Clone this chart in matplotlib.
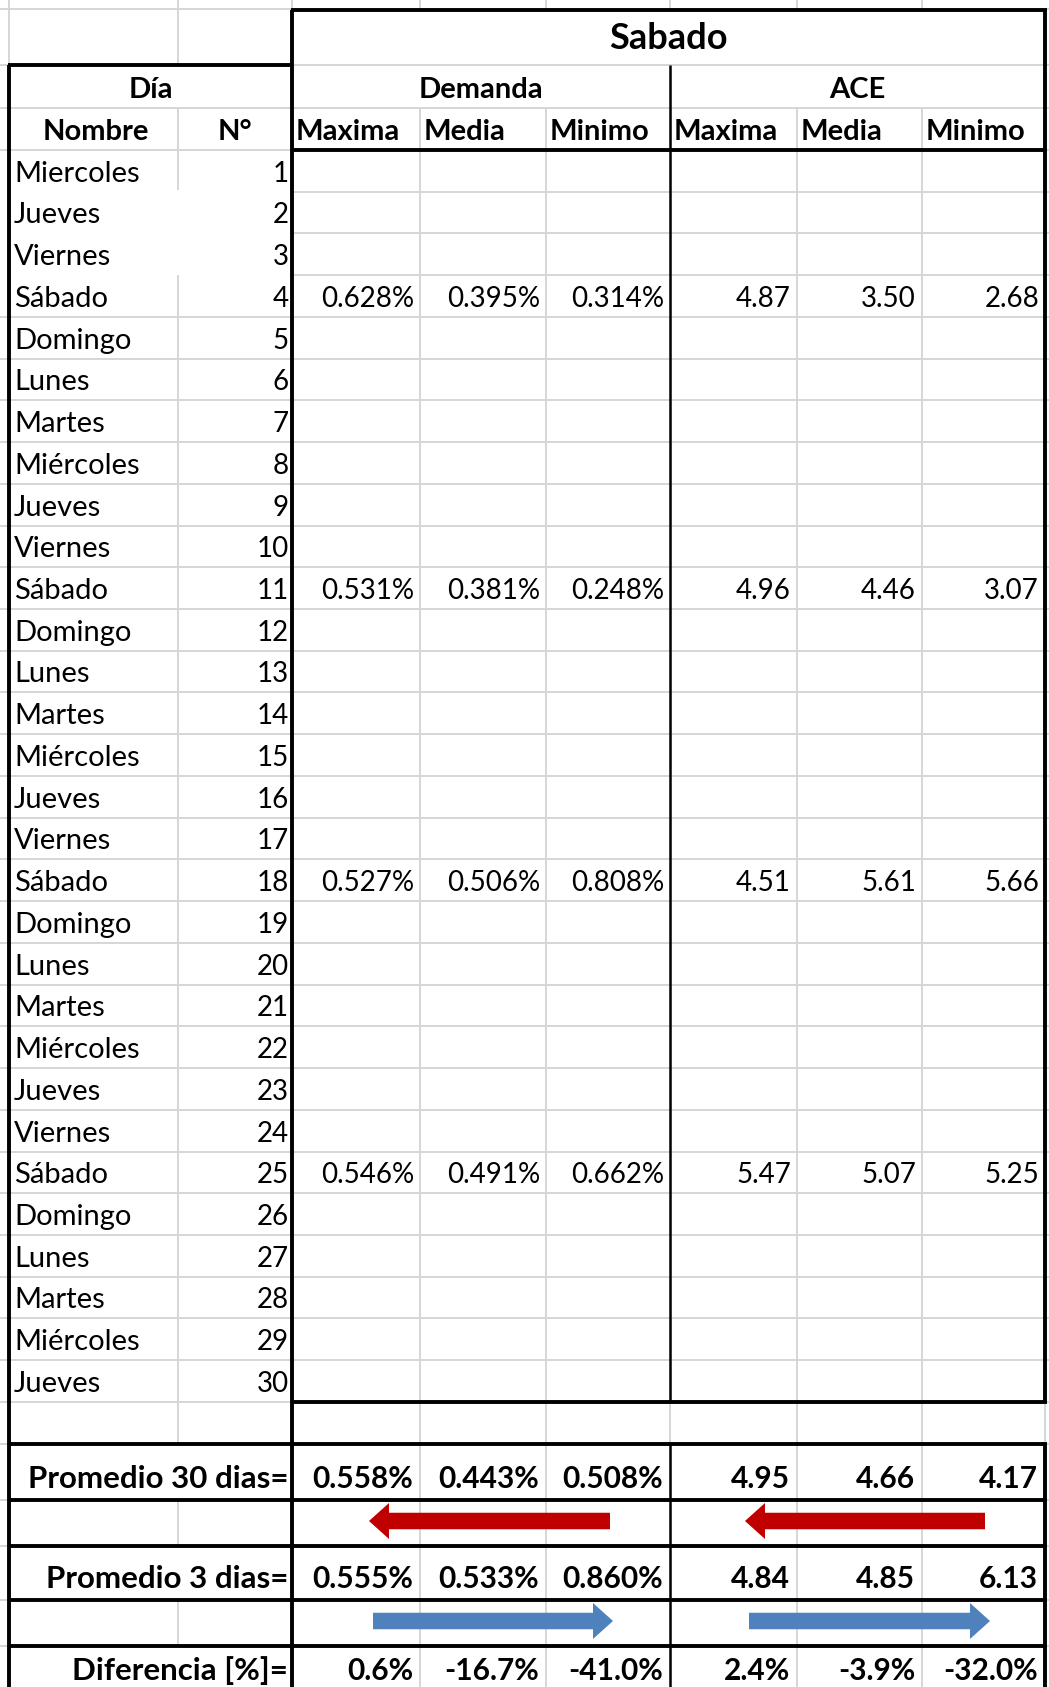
import numpy as np
import matplotlib.pyplot as plt
from matplotlib.patches import FancyArrow

plt.rcParams['font.family'] = ['Lato', 'DejaVu Sans']

# ---- datos ----
dias = ['Miercoles', 'Jueves', 'Viernes', 'Sábado', 'Domingo', 'Lunes', 'Martes',
        'Miércoles', 'Jueves', 'Viernes', 'Sábado', 'Domingo', 'Lunes', 'Martes',
        'Miércoles', 'Jueves', 'Viernes', 'Sábado', 'Domingo', 'Lunes', 'Martes',
        'Miércoles', 'Jueves', 'Viernes', 'Sábado', 'Domingo', 'Lunes', 'Martes',
        'Miércoles', 'Jueves']
sabados = [4, 11, 18, 25]
dem_max = [0.628, 0.531, 0.527, 0.546]
dem_media = [0.395, 0.381, 0.506, 0.491]
dem_min = [0.314, 0.248, 0.808, 0.662]
ace_max = [4.87, 4.96, 4.51, 5.47]
ace_media = [3.50, 4.46, 5.61, 5.07]
ace_min = [2.68, 3.07, 5.66, 5.25]

prom30_dem = [0.558, 0.443, 0.508]
prom30_ace = [4.95, 4.66, 4.17]
prom3_dem = [0.555, 0.533, 0.860]
prom3_ace = [4.84, 4.85, 6.13]
diferencia = [0.6, -16.7, -41.0, 2.4, -3.9, -32.0]

sub_cols = ['Maxima', 'Media', 'Minimo']

# ---- geometria (pixeles) ----
W, H = 1049, 1687
GRID = '#d6d6d6'
RED = '#c00000'
BLUE = '#4f81bd'

cx = [9, 178, 292, 420, 546, 670, 797, 922, 1045]   # bordes de columnas
rh = 41.73
y_top, y_sab, y_dia, y_nom, y_dat = 0, 10, 65, 108, 150
y_rows = [y_dat + k * rh for k in range(31)]
y_end = y_rows[-1]
y_bot = [y_end, 1444, 1500, 1546, 1600, 1646, 1700]

FS_TXT = 21     # nombres
FS_NUM = 20     # numeros
FS_HEAD = 21
FS_RES = 22.5
FS_RESNUM = 21.5

fig = plt.figure(figsize=(W / 100, H / 100), dpi=100)
ax = fig.add_axes([0, 0, 1, 1])
ax.set_xlim(0, W)
ax.set_ylim(H, 0)
ax.axis('off')


def hline(y, x0, x1, c=GRID, lw=1.4):
    ax.plot([x0, x1], [y, y], color=c, lw=lw, solid_capstyle='butt', zorder=1 if c == GRID else 3)


def vline(x, y0, y1, c=GRID, lw=1.4):
    ax.plot([x, x], [y0, y1], color=c, lw=lw, solid_capstyle='butt', zorder=1 if c == GRID else 3)


# lineas grises
hline(y_sab - 1, 0, W)
hline(y_dia, 0, W)
hline(y_nom, 0, W)
hline(y_dat, 0, W)
for i, y in enumerate(y_rows[1:]):
    x0 = cx[2] if i < 3 else 0
    hline(y, x0, W)
for y in y_bot[1:-1]:
    hline(y, 0, W)

vline(cx[0], 0, H)
for x in [cx[1], cx[2], cx[3], cx[4], cx[5], cx[6], cx[7]]:
    vline(x, 0, y_sab)
vline(cx[1], y_sab, y_dia)
vline(cx[1], y_nom, y_dat + 40)
vline(cx[1], y_rows[3], y_bot[1])
vline(cx[1], y_bot[2], y_bot[3])
vline(cx[1], y_bot[4], y_bot[5])
for x in [cx[3], cx[4], cx[6], cx[7]]:
    vline(x, y_nom, H)
vline(cx[5], y_end, y_bot[1])
vline(cx[8], y_end, y_bot[1])

# bordes gruesos
K = 'black'
hline(y_sab, cx[2] - 1.5, cx[8] + 1.5, K, 2.8)
hline(y_dia, cx[0] - 1.5, cx[2], K, 2.8)
hline(y_dat, cx[2], cx[8] + 1.5, K, 2.8)
hline(y_end, cx[2], cx[8] + 1.5, K, 2.8)
for y in y_bot[1:-1]:
    hline(y, cx[0] - 1.5, cx[8] + 1.5, K, 2.8)
vline(cx[0], y_dia, H, K, 2.8)
vline(cx[2], y_sab, H, K, 2.8)
vline(cx[8], y_sab, y_end, K, 2.8)
vline(cx[8], y_bot[1], H, K, 2.8)
vline(cx[5], y_dia, y_end, K, 1.8)
vline(cx[5], y_bot[1], H, K, 1.8)

# encabezados
ax.text((cx[2] + cx[8]) / 2, 49, 'Sabado', ha='center', va='baseline', fontsize=26, fontweight='bold')
ax.text((cx[0] + cx[2]) / 2, y_nom - 10, 'Día', ha='center', va='baseline', fontsize=FS_HEAD, fontweight='bold')
ax.text((cx[2] + cx[5]) / 2, y_nom - 10, 'Demanda', ha='center', va='baseline', fontsize=FS_HEAD, fontweight='bold')
ax.text((cx[5] + cx[8]) / 2, y_nom - 10, 'ACE', ha='center', va='baseline', fontsize=FS_HEAD, fontweight='bold')
ax.text((cx[0] + cx[1]) / 2 + 2, y_dat - 10, 'Nombre', ha='center', va='baseline', fontsize=FS_HEAD, fontweight='bold')
ax.text((cx[1] + cx[2]) / 2, y_dat - 10, 'N°', ha='center', va='baseline', fontsize=FS_HEAD, fontweight='bold')
for j, name in enumerate(sub_cols * 2):
    ax.text(cx[2 + j] + 4, y_dat - 10, name, ha='left', va='baseline', fontsize=FS_HEAD, fontweight='bold')

# filas de dias
for i, d in enumerate(dias):
    yb = y_rows[i + 1] - 10
    ax.text(14, yb, d, ha='left', va='baseline', fontsize=FS_TXT)
    ax.text(cx[2] - 3, yb, str(i + 1), ha='right', va='baseline', fontsize=FS_NUM)

cols_dem = [dem_max, dem_media, dem_min]
cols_ace = [ace_max, ace_media, ace_min]
for k, n in enumerate(sabados):
    yb = y_rows[n] - 10
    for j in range(3):
        ax.text(cx[3 + j] - 6, yb, f'{cols_dem[j][k]:.3f}%', ha='right', va='baseline', fontsize=FS_NUM)
        ax.text(cx[6 + j] - 6, yb, f'{cols_ace[j][k]:.2f}', ha='right', va='baseline', fontsize=FS_NUM)

# resumen
rows_res = [('Promedio 30 dias=', prom30_dem, prom30_ace, y_bot[2]),
            ('Promedio 3 dias=', prom3_dem, prom3_ace, y_bot[4])]
for label, vd, va_, yb in rows_res:
    ax.text(cx[2] - 4, yb - 12, label, ha='right', va='baseline', fontsize=FS_RES, fontweight='bold')
    for j in range(3):
        ax.text(cx[3 + j] - 7, yb - 12, f'{vd[j]:.3f}%', ha='right', va='baseline', fontsize=FS_RESNUM, fontweight='bold')
        ax.text(cx[6 + j] - 7, yb - 12, f'{va_[j]:.2f}', ha='right', va='baseline', fontsize=FS_RESNUM, fontweight='bold')

ax.text(cx[2] - 4, 1680, 'Diferencia [%]=', ha='right', va='baseline', fontsize=FS_RES, fontweight='bold')
for j, v in enumerate(diferencia):
    ax.text(cx[3 + j] - 7, 1680, f'{v:.1f}%', ha='right', va='baseline', fontsize=FS_RESNUM, fontweight='bold')

# flechas (cola, punta, y)
flechas = [(610, 369, 1521, RED), (985, 745, 1521, RED),
           (373, 613, 1621, BLUE), (749, 990, 1621, BLUE)]
for x0, x1, y, c in flechas:
    ax.add_patch(FancyArrow(x0, y, x1 - x0, 0, width=16.5, head_width=36, head_length=20,
                            length_includes_head=True, color=c, lw=0, zorder=4))

fig.savefig('out.png', dpi=100, facecolor='white')
